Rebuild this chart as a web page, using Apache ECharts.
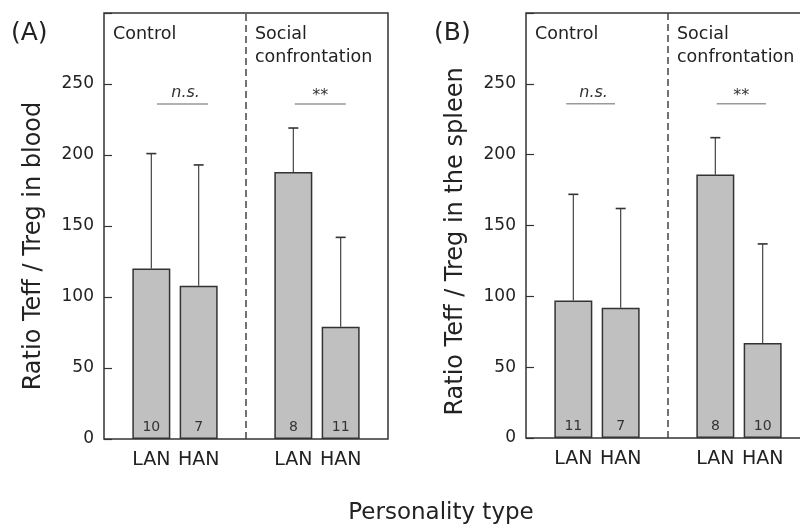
<!DOCTYPE html>
<html>
<head>
<meta charset="utf-8">
<script src="https://cdn.jsdelivr.net/npm/echarts@6/dist/echarts.min.js"></script>
<style>html,body{margin:0;padding:0;background:#fff}#c{width:800px;height:530px}</style>
</head>
<body>
<div id="c"></div>
<script>
// ---- data ----
const xPositions = [1, 2, 4, 5];
const xTickLabels = ['', 'LAN', 'HAN', '', 'LAN', 'HAN', ''];
const bloodMeans = [120, 108, 188, 79];
const bloodUpper = [201, 193, 219, 142];
const bloodN = [10, 7, 8, 11];
const spleenMeans = [97, 92, 186, 67];
const spleenUpper = [172, 162, 212, 137];
const spleenN = [11, 7, 8, 10];
const bloodSig = [['n.s.', 1.12, 2.2, 236], ['**', 4.03, 5.11, 236]];
const spleenSig = [['n.s.', 0.85, 1.88, 236], ['**', 4.03, 5.07, 236]];
const groupDivider = 3;
const yLabelA = 'Ratio Teff / Treg in blood';
const yLabelB = 'Ratio Teff / Treg in the spleen';
const xTitle = 'Personality type';

const FONT = 'DejaVu Sans, Liberation Sans, sans-serif';
const chart = echarts.init(document.getElementById('c'), null, {renderer: 'canvas'});

function xAxisCfg(gi) {
  return {
    type: 'value', gridIndex: gi, min: 0, max: 6, interval: 1,
    axisLine: {show: false}, axisTick: {show: false}, splitLine: {show: false},
    axisLabel: {fontFamily: FONT, fontSize: 19, color: '#222', margin: 12,
      formatter: v => xTickLabels[Math.round(v)] || ''}
  };
}
function yAxisCfg(gi, name, pad) {
  return {
    type: 'value', gridIndex: gi, min: 0, max: 300, interval: 50,
    axisLine: {show: false}, splitLine: {show: false},
    axisTick: {show: true, inside: true, length: 8, lineStyle: {color: '#333', width: 1.2}},
    axisLabel: {fontFamily: FONT, fontSize: 17, color: '#222', margin: 10,
      formatter: v => (v >= 300 ? '' : String(v))},
    name: name, nameLocation: 'middle', nameGap: 58,
    nameTextStyle: {fontFamily: FONT, fontSize: 24, color: '#222', padding: [0, pad, 0, 0]}
  };
}
function barSeries(gi, means, ns) {
  return {
    type: 'bar', xAxisIndex: gi, yAxisIndex: gi, barWidth: 38, z: 3,
    data: xPositions.map((x, i) => [x, means[i]]),
    itemStyle: {color: '#c0c0c0', borderColor: '#333', borderWidth: 1.5},
    label: {show: true, position: 'insideBottom', distance: 5, fontFamily: FONT, fontSize: 14, color: '#333',
      formatter: p => String(ns[p.dataIndex])},
    markLine: {silent: true, symbol: 'none', label: {show: false},
      lineStyle: {color: '#444', width: 1.5, type: [7, 4]},
      data: [{xAxis: groupDivider}]}
  };
}
function errSeries(gi, means, upper) {
  return {
    type: 'custom', xAxisIndex: gi, yAxisIndex: gi, z: 2, silent: true,
    data: xPositions.map((x, i) => [x, means[i], upper[i]]),
    renderItem: (params, api) => {
      const p0 = api.coord([api.value(0), api.value(1)]);
      const p1 = api.coord([api.value(0), api.value(2)]);
      return {type: 'group', children: [
        {type: 'line', shape: {x1: p0[0], y1: p0[1], x2: p1[0], y2: p1[1]}, style: {stroke: '#444', lineWidth: 1.2}},
        {type: 'line', shape: {x1: p1[0] - 5, y1: p1[1], x2: p1[0] + 5, y2: p1[1]}, style: {stroke: '#333', lineWidth: 1.6}}
      ]};
    }
  };
}
function sigSeries(gi, sig) {
  return {
    type: 'custom', xAxisIndex: gi, yAxisIndex: gi, z: 4, silent: true,
    data: sig.map(s => [s[1], s[2], s[3]]),
    renderItem: (params, api) => {
      const a = api.coord([api.value(0), api.value(2)]);
      const b = api.coord([api.value(1), api.value(2)]);
      const t = sig[params.dataIndex][0];
      const isNs = t === 'n.s.';
      return {type: 'group', children: [
        {type: 'line', shape: {x1: a[0], y1: a[1], x2: b[0], y2: b[1]}, style: {stroke: '#999', lineWidth: 1.5}},
        {type: 'text', x: (a[0] + b[0]) / 2 + (isNs ? 3 : 0), y: a[1] - (isNs ? 3 : 0),
          style: {text: t, fontFamily: FONT, fontSize: 16, fontStyle: isNs ? 'italic' : 'normal',
            fill: '#333', align: 'center', verticalAlign: 'bottom'}}
      ]};
    }
  };
}
function txt(x, y, text, size, extra) {
  return Object.assign({type: 'text', x: x, y: y, silent: true,
    style: Object.assign({text: text, fontFamily: FONT, fontSize: size, fill: '#222', verticalAlign: 'middle'}, extra || {})});
}

chart.setOption({
  animation: false,
  backgroundColor: '#ffffff',
  grid: [
    {left: 104, top: 13, width: 284, height: 426, show: true, borderColor: '#333', borderWidth: 1.5,
      backgroundColor: 'transparent', outerBoundsMode: 'none', containLabel: false},
    {left: 526, top: 13, width: 284, height: 425, show: true, borderColor: '#333', borderWidth: 1.5,
      backgroundColor: 'transparent', outerBoundsMode: 'none', containLabel: false}
  ],
  xAxis: [xAxisCfg(0), xAxisCfg(1)],
  yAxis: [yAxisCfg(0, yLabelA, 40), yAxisCfg(1, yLabelB, 32)],
  series: [
    errSeries(0, bloodMeans, bloodUpper), barSeries(0, bloodMeans, bloodN), sigSeries(0, bloodSig),
    errSeries(1, spleenMeans, spleenUpper), barSeries(1, spleenMeans, spleenN), sigSeries(1, spleenSig)
  ],
  graphic: [
    txt(11, 33, '(A)', 25),
    txt(434, 33, '(B)', 25),
    txt(113, 34, 'Control', 17.5),
    txt(255, 34, 'Social', 17.5),
    txt(255, 57, 'confrontation', 17.5),
    txt(535, 34, 'Control', 17.5),
    txt(677, 34, 'Social', 17.5),
    txt(677, 57, 'confrontation', 17.5),
    txt(441, 513, xTitle, 23, {align: 'center'})
  ]
});
</script>
</body>
</html>
